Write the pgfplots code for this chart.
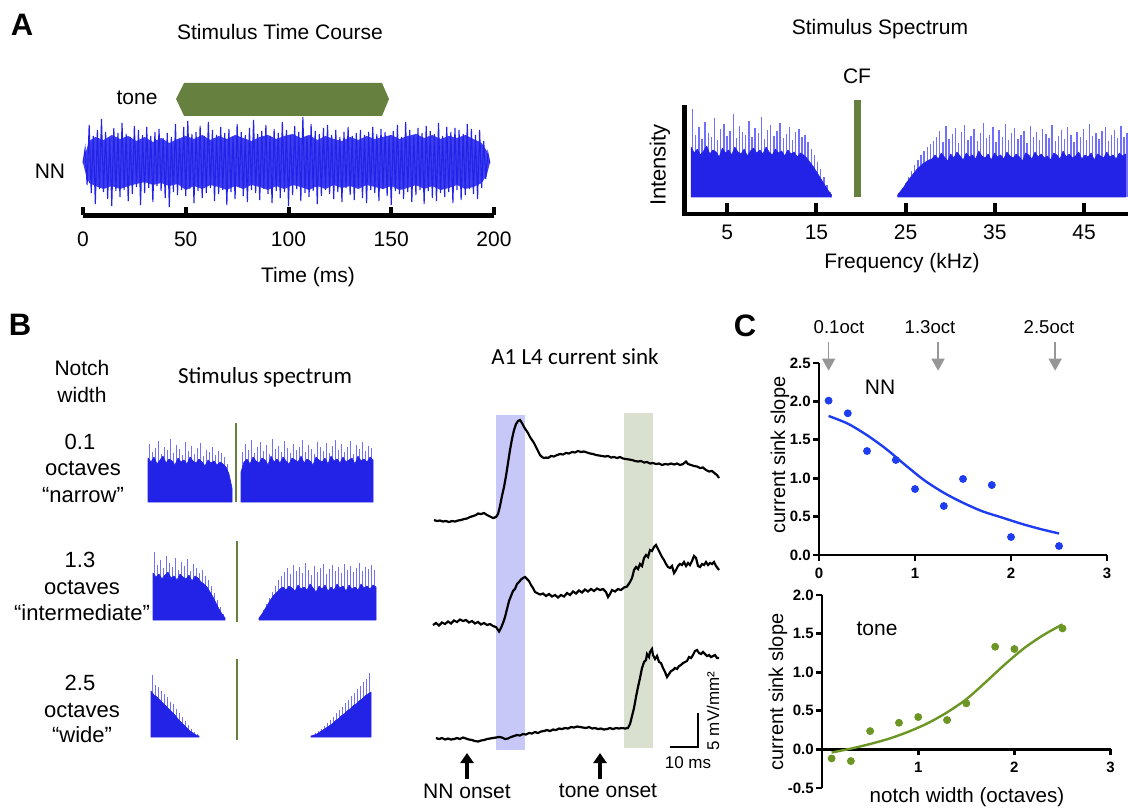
\documentclass[border=0pt]{standalone}
\usepackage{fontspec}
\setmainfont{Liberation Sans}
\newfontfamily\calibri{Carlito}
\usepackage{pgfplots}
\pgfplotsset{compat=1.18}
\usetikzlibrary{arrows.meta}

\definecolor{noisedark}{RGB}{35,35,232}
\definecolor{noisecore}{RGB}{62,62,242}
\definecolor{noiselight}{RGB}{112,112,252}
\definecolor{tonegreen}{RGB}{102,128,64}
\definecolor{bandblue}{RGB}{200,200,248}
\definecolor{bandgreen}{RGB}{218,224,208}
\definecolor{cblue}{RGB}{30,60,240}
\definecolor{cgreen}{RGB}{107,150,35}
\definecolor{arrowgray}{RGB}{150,150,150}

\newcommand\fs[1]{\fontsize{#1}{#1}\selectfont}

% 1 px of the reference = 0.5pt
\pgfplotsset{
  every axis/.append style={scale only axis, anchor=south west, clip=false},
  spec/.style={hide axis, width=120pt, height=42.5pt, xmin=140, xmax=380, ymin=0, ymax=85},
  darkfill/.style={fill=noisedark, draw=noisedark, line width=0.3pt, line join=bevel},
  lightcomb/.style={ycomb, draw=noiselight, line width=0.7pt},
  /pgfplots/table/noisetab/.style={y index=0, header=false, row sep=\\},
}

\begin{document}
\begin{tikzpicture}

% ---------- canvas in pixel units: texts, B traces ----------
\begin{axis}[at={(0pt,0pt)}, width=564pt, height=404.5pt,
  xmin=0, xmax=1128, ymin=0, ymax=809, y dir=reverse, hide axis]
\addplot[draw=none, fill=bandblue] coordinates {(496,415) (525,415) (525,750) (496,750)};
\addplot[draw=none, fill=bandgreen] coordinates {(624,413) (653,413) (653,748) (624,748)};

\addplot[black, line width=1.1pt] coordinates {
(434,520) (437,521) (440,520.5) (443,521.5) (446,521) (449,522) (452,521) (455,521.5) (458,520.5) (461,520)
(464,519) (467,518.5) (470,517) (473,516) (476,515) (478,513.5) (481,514) (484,513) (487,515) (490,516.5)
(493,518) (496,517) (498,514) (500,506) (502,496) (504,487) (506,476) (508,463) (510,450) (512,439)
(514,430) (516,424) (518,421) (520,420) (522,423) (524,427) (526,430) (528,433) (530,437) (532,440)
(534,443) (536,447) (538,451) (540,455) (542,457) (544,458) (546,457.5) (548,458) (551,456) (554,456.5)
(557,455) (560,454) (563,454.5) (566,453) (569,453.5) (572,452) (575,452.5) (578,451) (581,452) (584,451.5)
(587,452.5) (590,453.5) (593,454) (596,455) (599,455.5) (602,456) (605,456.5) (608,456) (611,457.5) (614,457)
(617,458) (620,457) (623,458.5) (626,459) (629,459.5) (632,460) (635,461) (638,461.5) (641,461) (644,462.5)
(647,462) (650,463.5) (653,463) (656,464) (659,463.5) (662,465) (665,464) (668,464.5) (671,463.5) (674,464.5)
(677,463.5) (680,465) (683,464) (686,461.5) (688,464) (691,465) (694,466) (697,466.5) (700,468) (703,467.5)
(706,470) (709,471.5) (712,471) (715,473.5) (717,475) (719,478)};
\addplot[black, line width=1.1pt] coordinates {
(433,625) (436,623) (439,625.5) (442,622.5) (445,624) (448,621.5) (451,623.5) (454,620.5) (457,622) (460,619.5)
(463,621) (466,620) (469,622.5) (472,621) (475,623.5) (478,622) (481,624.5) (484,623) (487,625) (490,624)
(493,626) (496,627) (499,631.5) (501,628) (503,623) (505,617) (507,609) (509,601) (511,596) (513,591)
(515,589) (517,584) (519,582) (521,579.5) (523,578) (525,577) (527,579) (529,581) (531,585) (533,588)
(535,592) (537,593) (540,594.5) (543,593.5) (546,596) (549,594) (552,596.5) (555,595) (558,597.5) (561,595)
(564,596.5) (567,593) (570,595) (573,591.5) (576,593.5) (579,590.5) (582,592.5) (585,589.5) (588,591.5) (591,589)
(594,591) (597,588.5) (600,590) (603,589) (606,592) (608,597) (610,594) (612,590) (615,591.5) (618,589)
(621,590) (624,587.5) (627,586.5) (630,582) (632,578) (634,570) (636,567) (638,569) (640,564) (642,566)
(644,558) (646,555) (648,557) (650,550) (652,551) (654,547) (656,545) (658,549) (660,553) (662,557)
(664,560) (666,564) (668,567) (670,568) (672,566) (674,573) (676,570) (678,566) (680,564) (682,565)
(684,562) (686,566) (688,563) (690,565) (692,561) (694,556) (696,558) (698,566) (700,567) (702,564)
(704,565) (706,562) (708,565) (710,563) (712,564) (714,562) (716,566) (719,570)};
\addplot[black, line width=1.1pt] coordinates {
(436,738) (439,739) (442,738) (445,739.5) (448,738.5) (451,739.5) (454,739) (457,738) (460,739) (463,737.5)
(466,738.5) (469,739.5) (472,740) (475,741) (478,741.5) (481,740.5) (484,740) (487,739) (490,738.5) (493,738)
(496,737.5) (499,737) (502,737.5) (505,739) (508,738.5) (511,737) (514,736) (517,735) (520,735.5) (523,734)
(526,734.5) (529,733) (532,733.5) (535,732) (538,733) (541,731.5) (544,731) (547,730) (550,731) (553,729.5)
(556,730) (559,728.5) (562,729) (565,728) (568,728.5) (571,727) (574,727.5) (577,726.5) (580,727) (583,727.5)
(586,728) (589,727) (592,728.5) (595,728) (598,729) (601,728.5) (604,729.5) (607,729) (610,728) (613,729)
(616,728) (619,728.5) (622,728) (625,728.5) (628,728) (630,724) (632,716) (634,708) (636,697) (638,687)
(640,678) (642,668) (644,662) (646,660) (647,654) (649,657) (650,652) (652,649) (653,655) (655,659)
(657,656) (659,662) (661,663) (663,668) (665,672) (667,677) (669,674) (671,671) (673,670) (675,668)
(677,669) (679,666) (681,665) (683,663) (685,662) (687,661) (689,657) (691,658) (693,655) (695,651)
(697,650) (699,653) (701,654) (703,652) (705,654) (707,656) (709,655) (711,657) (713,656) (715,655)
(717,658) (719,658)};

% scale bar and onset arrows
\addplot[black, line width=1pt] coordinates {(670,747) (698,747) (698,713)};
\addplot[black, line width=2pt, -{Triangle[length=5pt,width=6.5pt]}] coordinates {(467,779) (467,753)};
\addplot[black, line width=2pt, -{Triangle[length=5pt,width=6.5pt]}] coordinates {(600,779) (600,753)};

% texts
\node[font=\bfseries\fs{15.5}] at (axis cs:22,25) {A};
\node[font=\bfseries\fs{15.5}] at (axis cs:20,325) {B};
\node[font=\bfseries\fs{15.5}] at (axis cs:745,326) {C};
\node[font=\fs{10.5}] at (axis cs:280,32) {Stimulus Time Course};
\node[font=\fs{10.5}] at (axis cs:137,98) {tone};
\node[font=\fs{10.5}] at (axis cs:50,171) {NN};
\node[font=\fs{10.5}] at (axis cs:308,277) {Time (ms)};
\node[font=\fs{10.5}] at (axis cs:880,29) {Stimulus Spectrum};
\node[font=\fs{10.5}] at (axis cs:857,76) {CF};
\node[font=\fs{11}, rotate=90] at (axis cs:660,165) {Intensity};
\node[font=\fs{10.5}] at (axis cs:902,263) {Frequency (kHz)};
\node[font=\fs{10.5}] at (axis cs:82,368) {Notch};
\node[font=\fs{10.5}] at (axis cs:82,395) {width};
\node[font=\calibri\fs{11.5}] at (axis cs:265,377) {Stimulus spectrum};
\node[font=\fs{11}] at (axis cs:80,442) {0.1};
\node[font=\fs{11}] at (axis cs:83,468) {octaves};
\node[font=\fs{11}] at (axis cs:83,495) {“narrow”};
\node[font=\fs{11}] at (axis cs:80,560) {1.3};
\node[font=\fs{11}] at (axis cs:82,587) {octaves};
\node[font=\fs{11}] at (axis cs:82,613) {“intermediate”};
\node[font=\fs{11}] at (axis cs:80,683) {2.5};
\node[font=\fs{11}] at (axis cs:82,710) {octaves};
\node[font=\fs{11}] at (axis cs:82,735) {“wide”};
\node[font=\calibri\fs{11.5}] at (axis cs:575,357) {A1 L4 current sink};
\node[font=\fs{10.5}] at (axis cs:467,791) {NN onset};
\node[font=\fs{10.5}] at (axis cs:608,791) {tone onset};
\node[font=\fs{8.5}] at (axis cs:688,763) {10 ms};
\node[font=\fs{8.5}, rotate=90] at (axis cs:713,711) {5 mV/mm²};
\node[font=\fs{9.3}] at (axis cs:839,327) {0.1oct};
\node[font=\fs{9.3}] at (axis cs:930,327) {1.3oct};
\node[font=\fs{9.3}] at (axis cs:1049,327) {2.5oct};
\node[font=\fs{10.5}] at (axis cs:880,387) {NN};
\node[font=\fs{10}, rotate=90] at (axis cs:780,455) {current sink slope};
\node[font=\fs{10.5}] at (axis cs:877,629) {tone};
\node[font=\fs{10}, rotate=90] at (axis cs:778,692) {current sink slope};
\node[font=\fs{10.3}] at (axis cs:967,797) {notch width (octaves)};
\end{axis}

% ---------- A: stimulus time course (y in px about the band centre) ----------
\begin{axis}[at={(41.5pt,296.75pt)}, width=205.5pt, height=66.25pt,
  xmin=0, xmax=200, ymin=-52.5, ymax=80,
  axis y line=none, axis x line*=bottom, axis line style={line width=2.4pt,-},
  xtick={0,50,100,150,200}, tick align=inside, major tick length=4pt,
  xtick style={line width=2pt, black},
  xticklabel style={font=\fs{10.5}, yshift=-4.5pt},
  /pgf/number format/assume math mode=true]
\addplot[draw=none, fill=tonegreen] coordinates {(45.3,64) (49.2,80) (145.5,80) (148.9,64) (145.5,47) (49.2,47)};
\addplot[draw=none, fill=noisecore] coordinates {
(0,0) (1.5,12) (3,22) (6,26) (10,23) (14,28) (18,24) (22,27) (26,22) (30,26) (34,21) (38,25) (42,20) (46,24)
(50,27) (54,24) (58,28) (62,23) (66,27) (70,24) (74,28) (78,25) (82,22) (86,26) (90,28) (94,24) (98,27)
(102,29) (106,25) (110,28) (114,23) (118,27) (122,24) (126,22) (130,26) (134,23) (138,27) (142,24) (146,26)
(150,28) (154,24) (158,27) (162,29) (166,25) (170,28) (174,24) (178,27) (182,25) (186,28) (190,24) (194,20)
(196.5,12) (198,0)
(196.5,-12) (194,-20) (190,-24) (186,-26) (182,-22) (178,-25) (174,-27) (170,-23) (166,-26) (162,-22)
(158,-25) (154,-27) (150,-23) (146,-26) (142,-24) (138,-22) (134,-26) (130,-23) (126,-25) (122,-22)
(118,-26) (114,-23) (110,-27) (106,-24) (102,-22) (98,-26) (94,-23) (90,-27) (86,-24) (82,-22) (78,-26)
(74,-23) (70,-27) (66,-24) (62,-22) (58,-26) (54,-23) (50,-27) (46,-21) (42,-23) (38,-20) (34,-22)
(30,-19) (26,-21) (22,-23) (18,-26) (14,-23) (10,-26) (6,-23) (3,-20) (1.5,-12)};
\addplot[noisedark, line width=0.55pt] table[noisetab, x expr=\coordindex] {0\\14\\-22\\38\\-30\\27\\-41\\33\\-26\\44\\-29\\31\\-36\\25\\-43\\35\\-28\\30\\-34\\40\\-27\\29\\-38\\26\\-31\\37\\-24\\33\\-42\\28\\-30\\36\\-25\\27\\-39\\31\\-23\\34\\-28\\25\\-35\\30\\-44\\26\\-29\\39\\-32\\24\\-27\\36\\-33\\42\\-26\\29\\-40\\31\\-28\\37\\-35\\27\\-30\\41\\-25\\33\\-38\\28\\-31\\36\\-27\\30\\-42\\34\\-29\\26\\-36\\39\\-24\\31\\-33\\28\\-39\\35\\-27\\43\\-30\\29\\-37\\32\\-26\\38\\-31\\27\\-40\\34\\-28\\30\\-35\\41\\-29\\33\\-43\\28\\-32\\37\\-26\\31\\-38\\46\\-30\\27\\-34\\39\\-28\\32\\-41\\29\\-33\\35\\-27\\38\\-31\\28\\-36\\33\\-29\\26\\-39\\31\\-25\\36\\-32\\27\\-37\\30\\-24\\33\\-35\\28\\-40\\31\\-27\\36\\-30\\29\\-38\\34\\-26\\31\\-33\\27\\-42\\32\\-28\\38\\-31\\26\\-36\\41\\-29\\33\\-39\\28\\-32\\35\\-27\\30\\-41\\37\\-28\\32\\-35\\29\\-38\\40\\-30\\27\\-34\\36\\-29\\31\\-40\\35\\-27\\33\\-37\\29\\-32\\39\\-26\\34\\-31\\28\\-36\\33\\-25\\22\\-16\\10\\0\\};
\end{axis}

% ---------- A: stimulus spectrum (kHz; y in px above baseline) ----------
\begin{axis}[at={(342.25pt,297.5pt)}, width=221.75pt, height=53.5pt,
  xmin=0.21, xmax=49.93, ymin=-17, ymax=90,
  axis x line*=bottom, axis y line*=left, axis line style={line width=2.2pt,-,line cap=rect},
  xtick={5,15,25,35,45}, ytick=\empty, tick align=inside, major tick length=5.5pt,
  xtick style={line width=2pt, black},
  xticklabel style={font=\fs{10.5}, yshift=-1.75pt},
  /pgf/number format/assume math mode=true]
\addplot[lightcomb] table[noisetab, x expr=1.125+0.35*\coordindex] {88\\62\\70\\58\\75\\64\\60\\79\\57\\68\\73\\61\\66\\83\\59\\71\\65\\62\\76\\60\\69\\64\\80\\58\\67\\72\\61\\66\\74\\59\\63\\70\\57\\65\\68\\60\\62\\55\\48\\42\\35\\28\\20\\12\\5\\};
\addplot[darkfill] table[noisetab, x expr=0.95+0.35*\coordindex] {50\\44\\48\\42\\46\\51\\43\\47\\45\\40\\49\\44\\47\\42\\50\\45\\43\\48\\41\\46\\49\\44\\47\\43\\50\\45\\42\\48\\44\\46\\41\\47\\43\\45\\40\\44\\42\\39\\35\\31\\26\\21\\16\\11\\6\\2\\} \closedcycle;
\addplot[lightcomb] table[noisetab, x expr=24.275+0.35*\coordindex] {4\\9\\14\\20\\26\\32\\37\\42\\46\\50\\53\\56\\60\\66\\55\\71\\58\\63\\69\\54\\65\\72\\57\\61\\68\\56\\64\\74\\59\\62\\70\\55\\67\\60\\73\\57\\64\\69\\58\\62\\66\\54\\71\\60\\65\\57\\68\\63\\59\\72\\56\\61\\67\\58\\70\\62\\55\\65\\60\\68\\57\\73\\61\\64\\58\\66\\70\\56\\62\\67\\59\\71\\60\\64\\};
\addplot[darkfill] table[noisetab, x expr=24.1+0.35*\coordindex] {2\\6\\10\\15\\19\\23\\27\\30\\33\\35\\37\\38\\42\\38\\44\\40\\36\\43\\39\\45\\41\\37\\44\\40\\42\\38\\46\\41\\39\\43\\37\\44\\40\\42\\38\\45\\41\\39\\43\\40\\36\\44\\42\\38\\45\\40\\43\\39\\41\\37\\44\\42\\38\\46\\40\\43\\39\\41\\45\\38\\42\\40\\44\\37\\43\\41\\39\\45\\40\\42\\38\\44\\41\\43\\} \closedcycle;
\addplot[tonegreen, line width=3.5pt] coordinates {(19.55,0) (19.55,97)};
\end{axis}

% ---------- B: spectra with notches (x, y in px) ----------
\begin{axis}[spec, at={(70pt,153.5pt)}]
\addplot[lightcomb] table[noisetab, x expr=149.5+3*\coordindex] {58\\50\\54\\61\\48\\55\\52\\63\\49\\57\\53\\47\\60\\51\\56\\48\\54\\59\\46\\52\\50\\55\\47\\51\\49\\45\\38\\22\\};
\addplot[darkfill] table[noisetab, x expr=148+3*\coordindex] {44\\40\\45\\38\\42\\46\\39\\43\\41\\37\\44\\40\\42\\38\\45\\41\\39\\43\\40\\36\\42\\39\\41\\37\\40\\38\\35\\28\\14\\} \closedcycle;
\addplot[lightcomb] table[noisetab, x expr=242.5+3*\coordindex] {50\\58\\52\\62\\49\\55\\60\\51\\57\\48\\63\\53\\56\\50\\61\\54\\49\\58\\52\\55\\62\\50\\57\\53\\48\\60\\55\\51\\59\\49\\56\\62\\52\\58\\50\\55\\61\\48\\57\\53\\60\\51\\56\\54\\};
\addplot[darkfill] table[noisetab, x expr=241+3*\coordindex] {30\\40\\43\\38\\45\\41\\39\\44\\42\\37\\46\\40\\43\\39\\45\\41\\38\\44\\42\\40\\46\\39\\43\\41\\37\\45\\42\\40\\44\\38\\46\\41\\43\\39\\45\\40\\42\\44\\38\\46\\41\\43\\40\\45\\42\\} \closedcycle;
\addplot[tonegreen, line width=1pt] coordinates {(236,0) (236,79)};
\end{axis}
\begin{axis}[spec, at={(70pt,94.5pt)}]
\addplot[lightcomb] table[noisetab, x expr=154.5+3*\coordindex] {68\\55\\60\\52\\64\\57\\53\\62\\50\\58\\54\\61\\49\\56\\52\\47\\50\\44\\40\\34\\27\\20\\13\\6\\};
\addplot[darkfill] table[noisetab, x expr=153+3*\coordindex] {47\\43\\46\\41\\45\\48\\42\\44\\40\\46\\43\\41\\45\\39\\44\\42\\38\\36\\33\\28\\23\\17\\11\\6\\2\\} \closedcycle;
\addplot[lightcomb] table[noisetab, x expr=260.5+3*\coordindex] {4\\10\\16\\22\\28\\34\\40\\44\\48\\52\\46\\55\\49\\53\\47\\57\\50\\45\\54\\48\\52\\56\\46\\51\\55\\49\\53\\47\\56\\50\\54\\48\\52\\57\\49\\53\\51\\55\\50\\};
\addplot[darkfill] table[noisetab, x expr=259+3*\coordindex] {2\\6\\11\\16\\21\\25\\28\\31\\33\\30\\34\\32\\29\\35\\31\\33\\30\\36\\32\\28\\34\\31\\35\\29\\33\\30\\36\\32\\34\\29\\35\\31\\33\\30\\36\\32\\34\\31\\35\\33\\} \closedcycle;
\addplot[tonegreen, line width=1pt] coordinates {(237,-2) (237,79)};
\end{axis}
\begin{axis}[spec, at={(70pt,36pt)}]
\addplot[lightcomb] table[noisetab, x expr=152.5+3*\coordindex] {62\\52\\50\\46\\43\\40\\35\\33\\28\\24\\20\\16\\12\\8\\5\\3\\};
\addplot[darkfill] table[noisetab, x expr=151+3*\coordindex] {46\\42\\40\\37\\34\\31\\28\\25\\22\\18\\15\\12\\9\\6\\4\\2\\1\\} \closedcycle;
\addplot[lightcomb] table[noisetab, x expr=312.5+3*\coordindex] {2\\4\\6\\8\\11\\14\\17\\20\\24\\27\\30\\34\\37\\41\\44\\48\\51\\55\\58\\64\\};
\addplot[darkfill] table[noisetab, x expr=311+3*\coordindex] {1\\2\\3\\5\\7\\9\\11\\13\\16\\18\\21\\23\\26\\28\\31\\33\\36\\38\\41\\43\\45\\} \closedcycle;
\addplot[tonegreen, line width=1pt] coordinates {(237,-3) (237,78)};
\end{axis}

% ---------- C: NN slope ----------
\begin{axis}[at={(409.5pt,127pt)}, width=144pt, height=96pt,
  xmin=0, xmax=3, ymin=0, ymax=2.5,
  axis x line*=bottom, axis y line*=left, axis line style={line width=1.4pt,-},
  xtick={0,1,2,3}, ytick={0,0.5,1,1.5,2,2.5},
  tick align=outside, major tick length=3pt, tick style={line width=1.4pt, black},
  ticklabel style={font=\bfseries\fs{7.5}},
  yticklabel style={inner xsep=1pt, /pgf/number format/fixed, /pgf/number format/fixed zerofill, /pgf/number format/precision=1},
  /pgf/number format/assume math mode=true]
\addplot[arrowgray, line width=0.8pt, -{Triangle[length=6pt,width=6.5pt]}] coordinates {(0.1,2.77) (0.1,2.40)};
\addplot[arrowgray, line width=0.8pt, -{Triangle[length=6pt,width=6.5pt]}] coordinates {(1.24,2.77) (1.24,2.40)};
\addplot[arrowgray, line width=0.8pt, -{Triangle[length=6pt,width=6.5pt]}] coordinates {(2.46,2.77) (2.46,2.40)};
\addplot[cblue, line width=1.2pt, smooth] coordinates {(0.1,1.81) (0.3,1.71) (0.5,1.56) (0.7,1.38) (0.9,1.17) (1.1,0.97) (1.3,0.81) (1.5,0.68) (1.7,0.57) (1.9,0.49) (2.1,0.41) (2.3,0.34) (2.5,0.28)};
\addplot[cblue, only marks, mark=*, mark size=1.75pt] coordinates {(0.1,2.01) (0.3,1.845) (0.5,1.354) (0.8,1.237) (1.0,0.859) (1.3,0.638) (1.5,0.99) (1.8,0.911) (2.0,0.234) (2.5,0.117)};
\end{axis}

% ---------- C: tone slope ----------
\begin{axis}[at={(411pt,10.5pt)}, width=144.3pt, height=96.5pt,
  xmin=0, xmax=3, ymin=-0.5, ymax=2,
  axis x line=middle, axis y line=left, axis line style={line width=1.4pt,-},
  xtick={1,2,3}, ytick={-0.5,0,0.5,1,1.5,2},
  tick align=outside, major tick length=3pt, tick style={line width=1.4pt, black},
  ticklabel style={font=\bfseries\fs{7.5}},
  yticklabel style={inner xsep=1pt, /pgf/number format/fixed, /pgf/number format/fixed zerofill, /pgf/number format/precision=1},
  /pgf/number format/assume math mode=true]
\addplot[cgreen, line width=1.2pt, smooth] coordinates {(0.1,-0.04) (0.3,0.01) (0.5,0.07) (0.7,0.14) (0.9,0.23) (1.1,0.34) (1.3,0.48) (1.5,0.65) (1.7,0.87) (1.9,1.10) (2.1,1.31) (2.3,1.48) (2.5,1.62)};
\addplot[cgreen, only marks, mark=*, mark size=1.75pt] coordinates {(0.1,-0.117) (0.3,-0.151) (0.5,0.237) (0.8,0.345) (1.0,0.419) (1.3,0.38) (1.5,0.596) (1.8,1.33) (2.0,1.30) (2.5,1.567)};
\end{axis}

\pgfresetboundingbox
\useasboundingbox (0,0) rectangle (564pt,404.5pt);
\end{tikzpicture}
\end{document}
